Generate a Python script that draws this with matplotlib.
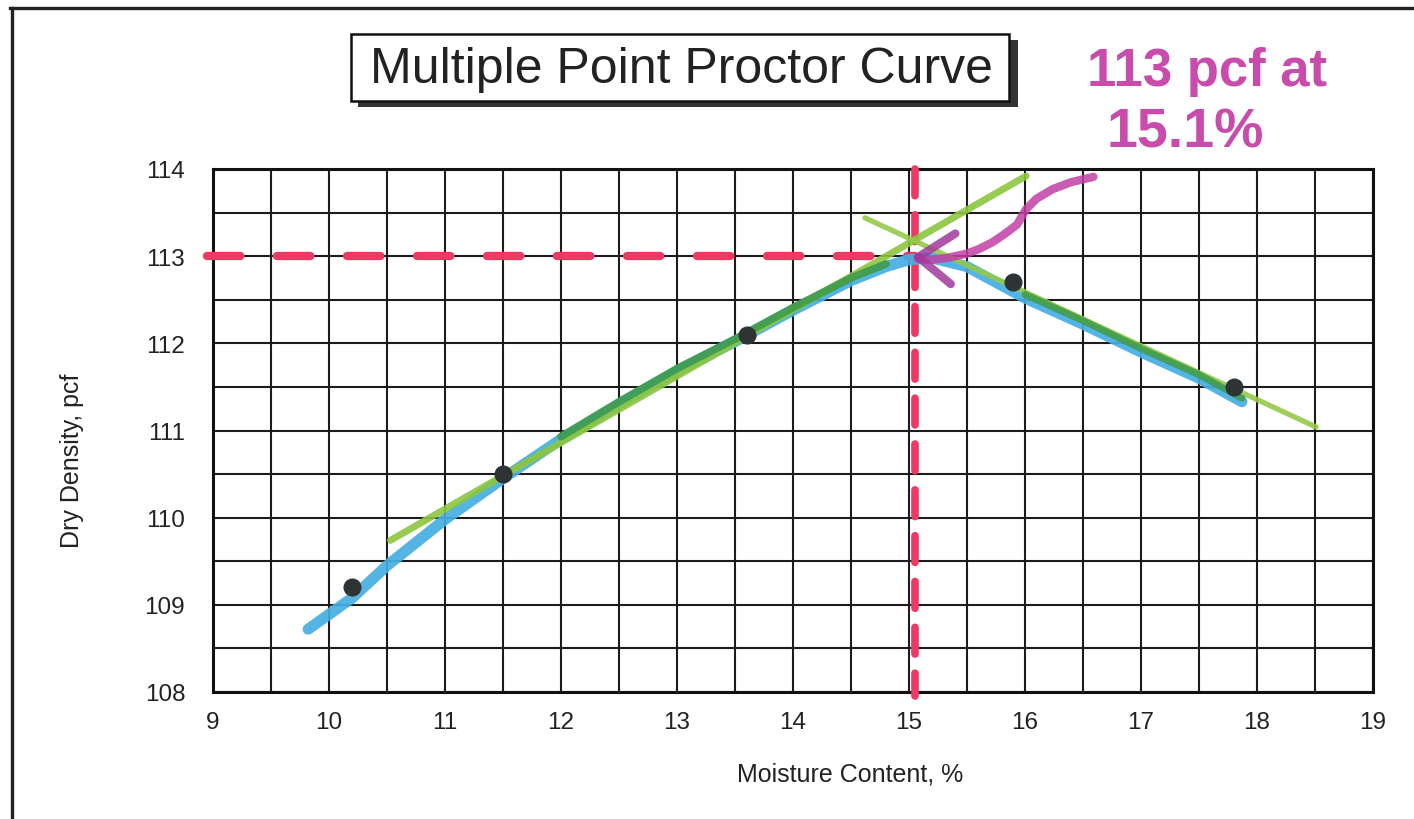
import numpy as np
import matplotlib
matplotlib.use("Agg")
import matplotlib.pyplot as plt
from matplotlib.patches import Rectangle
from matplotlib.lines import Line2D

plt.rcParams['font.family'] = ['Liberation Sans', 'DejaVu Sans']

# printed test points
moisture = [10.2, 11.5, 13.6, 15.9, 17.8]
density = [109.2, 110.5, 112.1, 112.7, 111.5]

# hand-drawn blue curve
blue_x = [9.82, 10.2, 10.5, 11.0, 11.5, 12.0, 12.5, 13.0, 13.5, 14.0, 14.5,
          14.8, 15.0, 15.2, 15.5, 16.0, 16.5, 17.0, 17.5, 17.87]
blue_y = [108.72, 109.08, 109.45, 109.98, 110.45, 110.9, 111.3, 111.68, 112.02,
          112.38, 112.72, 112.88, 112.96, 112.98, 112.88, 112.52, 112.22, 111.9,
          111.6, 111.33]

# green straight-line fits
green_up_x = [10.53, 16.01]
green_up_y = [109.74, 113.92]
green_down_x = [14.62, 18.51]
green_down_y = [113.44, 111.04]

# optimum read-off
opt_density = 113.0
opt_moisture = 15.05

# magenta arrow from note to optimum
arrow_x = [16.59, 16.4, 16.24, 16.1, 16.01, 15.93, 15.82, 15.72, 15.6, 15.5, 15.33, 15.2, 15.08]
arrow_y = [113.91, 113.85, 113.77, 113.66, 113.54, 113.36, 113.25, 113.16, 113.08, 113.03,
           112.98, 112.96, 112.97]
barb1_x = [15.08, 15.4]
barb1_y = [112.99, 113.26]
barb2_x = [15.08, 15.36]
barb2_y = [112.99, 112.68]

fig = plt.figure(figsize=(14.14, 8.2), dpi=100)
ax = fig.add_axes([213 / 1414, 1 - 693 / 820, 1160 / 1414, 523 / 820])

ax.set_xlim(9, 19)
ax.set_ylim(108, 114)
ax.set_xticks(np.arange(9, 20, 1))
ax.set_xticks(np.arange(9, 19.5, 0.5), minor=True)
ax.set_yticks(np.arange(108, 115, 1))
ax.set_yticks(np.arange(108, 114.5, 0.5), minor=True)
ax.grid(True, which='both', color='#1c1c1c', lw=1.5)
ax.set_axisbelow(True)
ax.tick_params(which='both', length=0)
ax.tick_params(axis='x', labelsize=17.5, pad=14, labelcolor='#222222')
ax.tick_params(axis='y', labelsize=17.5, pad=20, labelcolor='#222222')
for s in ax.spines.values():
    s.set_linewidth(2.2)
    s.set_color('#111111')

# red dashed read-off lines
ax.plot([8.95, opt_moisture], [opt_density, opt_density], color='#ec3a62', lw=6,
        dashes=(4.0, 4.4), dash_capstyle='round', clip_on=False, zorder=3)
ax.plot([opt_moisture, opt_moisture], [114.0, 107.95], color='#ec3a62', lw=5.5,
        dashes=(3.5, 2.5), dash_capstyle='round', clip_on=False, zorder=3)

# blue hand curve
ax.plot(blue_x, blue_y, color='#45aee2', lw=8, alpha=0.92, solid_capstyle='round', zorder=4)
# green lines
ax.plot(green_up_x, green_up_y, color='#8cc63e', lw=5, alpha=0.9, solid_capstyle='round', zorder=5)
ax.plot(green_down_x, green_down_y, color='#95c94a', lw=3.8, alpha=0.9, solid_capstyle='round', zorder=5)

# darker green where the two markers overlap
bx = np.array(blue_x)
by = np.array(blue_y)
left = (bx >= 11.9) & (bx <= 14.9)
right = (bx >= 15.6)
ax.plot(bx[left], by[left] + 0.03, color='#3f9b4b', lw=5.5, alpha=0.9, solid_capstyle='round', zorder=5)
ax.plot(bx[right], by[right] + 0.04, color='#3f9b4b', lw=5, alpha=0.85, solid_capstyle='round', zorder=5)

# magenta arrow
ax.plot(arrow_x, arrow_y, color='#c23fa6', lw=6, alpha=0.85, solid_capstyle='round', zorder=6)
ax.plot(barb1_x, barb1_y, color='#a13a9e', lw=6, alpha=0.85, solid_capstyle='round', zorder=6)
ax.plot(barb2_x, barb2_y, color='#a13a9e', lw=6, alpha=0.85, solid_capstyle='round', zorder=6)

# data points
ax.plot(moisture, density, 'o', color='#2e3336', markersize=12, zorder=7)

fig.text(850 / 1414, 1 - 775 / 820, 'Moisture Content, %', ha='center', va='center',
         fontsize=18, color='#222222')
fig.text(72 / 1414, 1 - 461 / 820, 'Dry Density, pcf', ha='center', va='center',
         rotation=90, fontsize=18, color='#222222')

# title box with shadow
fig.patches.append(Rectangle((358 / 1414, 1 - 108 / 820), 660 / 1414, 67 / 820,
                             transform=fig.transFigure, facecolor='#333333',
                             edgecolor='none', zorder=1))
fig.patches.append(Rectangle((351 / 1414, 1 - 102 / 820), 658 / 1414, 67 / 820,
                             transform=fig.transFigure, facecolor='white',
                             edgecolor='#111111', lw=1.8, zorder=2))
fig.text(681 / 1414, 1 - 70 / 820, 'Multiple Point Proctor Curve', ha='center', va='center',
         fontsize=36, color='#222222', zorder=3)

# handwritten note
fig.text(1207 / 1414, 1 - 72 / 820, '113 pcf at', ha='center', va='center', fontsize=38,
         fontweight='bold', color='#c94bab')
fig.text(1185 / 1414, 1 - 133 / 820, '15.1%', ha='center', va='center', fontsize=40,
         fontweight='bold', color='#c94bab')

# page frame from the scan
fig.lines.append(Line2D([10 / 1414, 1], [1 - 9 / 820, 1 - 9 / 820], transform=fig.transFigure,
                        color='#222222', lw=2.4))
fig.lines.append(Line2D([12 / 1414, 12 / 1414], [0, 1 - 9 / 820], transform=fig.transFigure,
                        color='#222222', lw=2.4))

fig.savefig('out.png', dpi=100)
